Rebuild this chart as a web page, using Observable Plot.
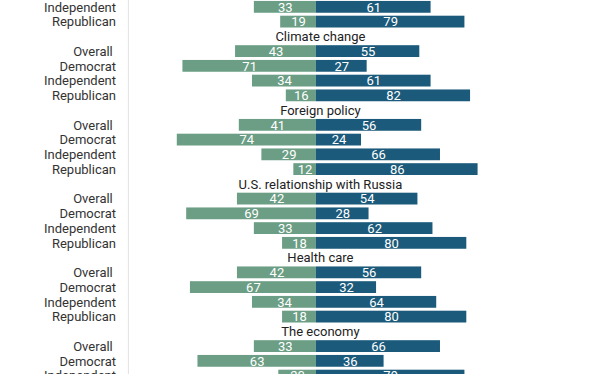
<!DOCTYPE html>
<html><head><meta charset="utf-8">
<script src="https://cdn.jsdelivr.net/npm/d3@7"></script>
<script src="https://cdn.jsdelivr.net/npm/@observablehq/plot@0.6"></script>
<style>body{margin:0;background:#fff;overflow:hidden}</style>
</head><body><div id="chart"></div>
<script>
const topics = [null, "Climate change", "Foreign policy", "U.S. relationship with Russia", "Health care", "The economy"];
const parties = ["Overall\u00a0", "Democrat", "Independent", "Republican"];
const disapprove = [
  [null, null, 33, 19],
  [43, 71, 34, 16],
  [41, 74, 29, 12],
  [42, 69, 33, 18],
  [42, 67, 34, 18],
  [33, 63, 20, null]
];
const approve = [
  [null, null, 61, 79],
  [55, 27, 61, 82],
  [56, 24, 66, 86],
  [54, 28, 62, 80],
  [56, 32, 64, 80],
  [66, 36, 79, null]
];

const green = "#6b9e84";
const blue = "#1b5a7a";

const rows = [];
const bars = [];
const titles = [];
topics.forEach((t, g) => {
  if (t) { const key = "t" + g; rows.push(key); titles.push({key, t}); }
  parties.forEach((p, i) => {
    const d = disapprove[g][i], a = approve[g][i];
    if (d == null) return;
    const key = g + "-" + i;
    rows.push(key);
    bars.push({key, p, d, a});
  });
});

const chart = Plot.plot({
  width: 593,
  height: 374,
  margin: 0,
  style: {fontFamily: "Roboto, sans-serif", fontSize: "13px", background: "#fff"},
  x: {domain: [-100, 100], range: [127.9, 503.9], axis: null},
  y: {type: "band", domain: rows, range: [-2.0, 384.45], padding: 0.2, round: false, axis: null},
  marks: [
    Plot.ruleX([-100], {stroke: "#e2e2e2"}),
    Plot.barX(bars, {y: "key", x1: d => -d.d, x2: 0, fill: green}),
    Plot.barX(bars, {y: "key", x1: 0, x2: "a", fill: blue}),
    Plot.text(bars, {y: "key", x: d => -d.d / 2, text: d => String(d.d), fill: "white", fontSize: 13}),
    Plot.text(bars, {y: "key", x: d => d.a / 2, text: d => String(d.a), fill: "white", fontSize: 13}),
    Plot.text(bars, {y: "key", x: -100, dx: -12.4, textAnchor: "end", text: "p", fill: "#333", fontSize: 13}),
    Plot.text(titles, {y: "key", x: 0, dx: 4, text: "t", fill: "#222", fontSize: 13})
  ]
});
document.getElementById("chart").appendChild(chart);
</script>
</body></html>
